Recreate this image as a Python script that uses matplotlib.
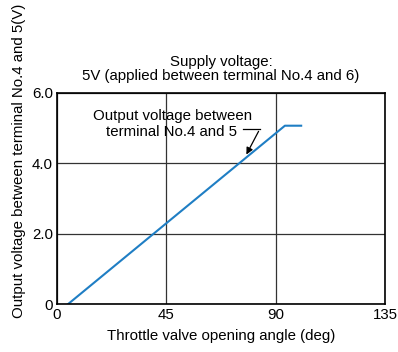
import numpy as np
import matplotlib.pyplot as plt

plt.rcParams['font.family'] = ['Liberation Sans', 'DejaVu Sans']

# throttle angle (deg) vs output voltage (V)
angle = [4.6, 93.8, 100.5]
voltage = [0, 5.07, 5.07]
xticks = [0, 45, 90, 135]
yticks = [0, 2, 4, 6]
ytick_labels = ['0', '2.0', '4.0', '6.0']

fs = 10.8
fig = plt.figure(figsize=(3.98, 3.52), dpi=100)
ax = fig.add_axes([57/398, 1 - 304/352, (385-57)/398, (304-93)/352])

ax.plot(angle, voltage, color='#1f7ec4', lw=1.5)

ax.set_xlim(0, 135)
ax.set_ylim(0, 6)
ax.set_xticks(xticks)
ax.set_yticks(yticks)
ax.set_yticklabels(ytick_labels)
ax.tick_params(length=0, labelsize=fs, pad=3)
ax.grid(True, color='#333333', lw=0.9)
for s in ax.spines.values():
    s.set_color('black')
    s.set_linewidth(1.2)

ax.set_xlabel('Throttle valve opening angle (deg)', fontsize=fs, labelpad=5)
fig.text(19/398, 1 - 318/352, 'Output voltage between terminal No.4 and 5(V)',
         fontsize=fs, rotation=90, ha='center', va='bottom')
fig.text(221/398, 1 - 62/352, 'Supply voltage:', fontsize=fs, ha='center', va='center')
fig.text(221/398, 1 - 76/352, '5V (applied between terminal No.4 and 6)',
         fontsize=fs, ha='center', va='center')

ax.text(47.7, 5.35, 'Output voltage between', fontsize=fs, ha='center', va='center')
ax.text(74.1, 4.89, 'terminal No.4 and 5', fontsize=fs, ha='right', va='center')
ax.plot([76.5, 83.5], [4.98, 4.98], color='black', lw=0.9)
ax.annotate('', xy=(77.4, 4.18), xytext=(83.5, 4.98),
            arrowprops=dict(arrowstyle='-|>', color='black', lw=0.9, mutation_scale=10))

fig.savefig('out.png', dpi=100)
